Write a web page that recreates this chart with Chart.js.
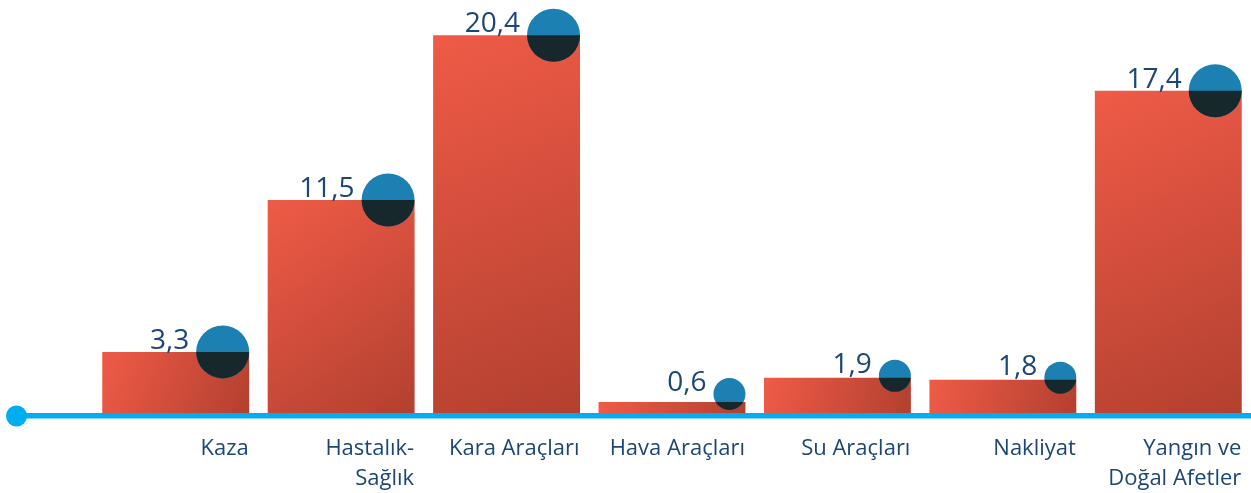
<!DOCTYPE html>
<html lang="tr">
<head>
<meta charset="utf-8">
<title>Kategorilere göre dağılım</title>
<script src="https://cdn.jsdelivr.net/npm/chart.js@4.4.0/dist/chart.umd.min.js"></script>
<style>
  html, body { margin: 0; padding: 0; background: #fff; }
  #wrap { width: 1251px; height: 493px; position: relative; }
</style>
</head>
<body>
<div id="wrap"><canvas id="barChart"></canvas></div>
<script>
// Data
const categories = [
  'Kaza',
  ['Hastalık-', 'Sağlık'],
  'Kara Araçları',
  'Hava Araçları',
  'Su Araçları',
  'Nakliyat',
  ['Yangın ve', 'Doğal Afetler']
];
const values = [3.3, 11.5, 20.4, 0.6, 1.9, 1.8, 17.4];

const TEXT_COLOR = '#1b4676';
const FONT = "'Open Sans', 'Noto Sans', sans-serif";
const BAR_PCT = 0.888;

// diagonal gradient per bar, light top-left to dark bottom-right
function barGradient(c) {
  const chart = c.chart;
  const xs = chart.scales.x, ys = chart.scales.y;
  if (c.type !== 'data' || !xs || !ys || !chart.chartArea) return '#e2533f';
  const w = xs.width / categories.length * BAR_PCT;
  const cx = xs.getPixelForValue(c.dataIndex);
  const top = ys.getPixelForValue(c.raw);
  const bottom = ys.getPixelForValue(0);
  const g = chart.ctx.createLinearGradient(cx - w / 2, top, cx + w / 2, bottom);
  g.addColorStop(0, '#ef5b47');
  g.addColorStop(1, '#b3402f');
  return g;
}

// knob circles, value labels and the baseline
const decorPlugin = {
  id: 'decor',
  afterDatasetsDraw(chart) {
    const ctx = chart.ctx;
    const area = chart.chartArea;

    // baseline with round end on the left
    ctx.save();
    ctx.fillStyle = '#00aeef';
    ctx.fillRect(16, area.bottom, chart.width - 16, 5.5);
    ctx.beginPath();
    ctx.arc(16.5, area.bottom + 3, 10.5, 0, Math.PI * 2);
    ctx.fill();
    ctx.restore();

    chart.getDatasetMeta(0).data.forEach((bar, i) => {
      const right = bar.x + bar.width / 2;
      const left = bar.x - bar.width / 2;
      const r = values[i] > 3 ? 26.5 : 16;
      const cx = right - r;
      const cy = Math.min(bar.y - (values[i] > 3 ? 0 : 2), area.bottom - 3 - r);

      ctx.save();
      ctx.fillStyle = '#1c80b3';
      ctx.beginPath();
      ctx.arc(cx, cy, r, 0, Math.PI * 2);
      ctx.fill();
      // part of the knob that sits over the bar is dark
      ctx.beginPath();
      ctx.rect(left, bar.y, bar.width, bar.base - bar.y);
      ctx.clip();
      ctx.fillStyle = '#17282d';
      ctx.beginPath();
      ctx.arc(cx, cy, r, 0, Math.PI * 2);
      ctx.fill();
      ctx.restore();

      ctx.save();
      ctx.fillStyle = TEXT_COLOR;
      ctx.font = '28px ' + FONT;
      ctx.textAlign = 'right';
      ctx.textBaseline = 'alphabetic';
      ctx.fillText(values[i].toFixed(1).replace('.', ','), cx - r - 7, cy - 3);
      ctx.restore();
    });
  }
};

new Chart(document.getElementById('barChart'), {
  type: 'bar',
  data: {
    labels: categories,
    datasets: [{
      data: values,
      backgroundColor: barGradient,
      borderWidth: 0,
      categoryPercentage: 1,
      barPercentage: BAR_PCT
    }]
  },
  options: {
    responsive: true,
    maintainAspectRatio: false,
    animation: false,
    layout: { padding: { left: 93, right: 0, top: 0, bottom: 0 } },
    plugins: {
      legend: { display: false },
      tooltip: { enabled: false }
    },
    scales: {
      x: {
        grid: { display: false, drawTicks: false },
        border: { display: false },
        afterFit(scale) { scale.height = 80; },
        ticks: {
          align: 'end',
          labelOffset: 73,
          padding: 21,
          maxRotation: 0,
          autoSkip: false,
          color: TEXT_COLOR,
          font: { family: FONT, size: 22, lineHeight: 1.36 }
        }
      },
      y: {
        display: false,
        min: 0,
        max: 22.3
      }
    }
  },
  plugins: [decorPlugin]
});
</script>
</body>
</html>
